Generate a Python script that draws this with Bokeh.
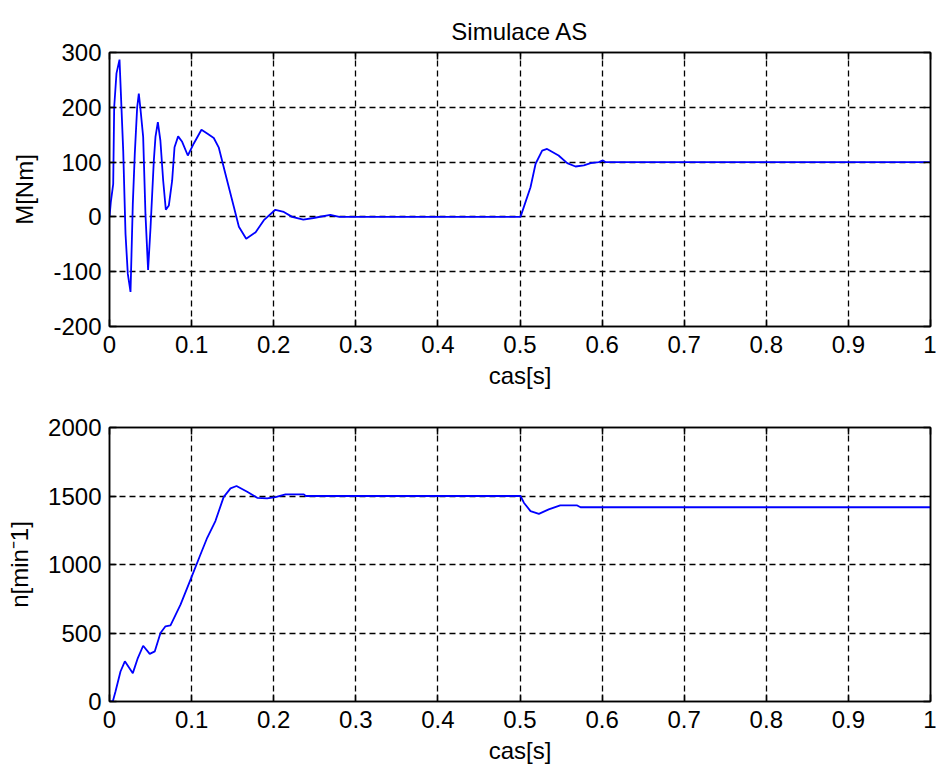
from bokeh.plotting import figure
from bokeh.layouts import column
from bokeh.models import LinearAxis, FixedTicker, Range1d
from bokeh.embed import file_html
from bokeh.resources import INLINE

# ---- data ----
t_M = [0.0, 0.0016, 0.0045, 0.0057, 0.0085, 0.0122, 0.0167, 0.0195, 0.0223, 0.0256,
       0.0284, 0.0308, 0.0337, 0.0357, 0.0377, 0.041, 0.0438, 0.047, 0.050, 0.054,
       0.056, 0.0589, 0.062, 0.0654, 0.0686, 0.0723, 0.0763, 0.0792, 0.0836, 0.0885,
       0.0954, 0.1027, 0.112, 0.119, 0.127, 0.133, 0.1413, 0.1515, 0.1576, 0.1665,
       0.178, 0.188, 0.202, 0.2123, 0.2225, 0.236, 0.2485, 0.269, 0.277, 0.28,
       0.5, 0.5006, 0.5128, 0.519, 0.527, 0.533, 0.547, 0.5575, 0.5676, 0.5778,
       0.586, 0.596, 0.601, 0.604, 1.0]
M = [0, 27, 60, 200, 262, 287, 121, -31, -104, -137,
     24, 115, 200, 225, 197, 146, 5, -97, -19, 103,
     146, 173, 139, 66, 13, 21, 66, 127, 147, 137,
     112, 134, 159, 152, 144, 127, 78, 18, -18, -40,
     -28, -6, 13, 9, 0, -5, -2, 3.6, 1, 0,
     0, 0, 54, 97, 121, 124, 112, 98, 92, 94,
     98, 100, 103, 100, 100]

t_n = [0.0, 0.004, 0.0073, 0.0134, 0.0187, 0.0284, 0.0345, 0.041, 0.049, 0.0552,
       0.0621, 0.0682, 0.0743, 0.0865, 0.0987, 0.1108, 0.119, 0.129, 0.139, 0.1474,
       0.1547, 0.1677, 0.1799, 0.192, 0.2022, 0.2144, 0.2367, 0.239, 0.5, 0.5006,
       0.5047, 0.5128, 0.523, 0.535, 0.549, 0.5697, 0.5737, 1.0]
n = [0, 0, 73, 219, 293, 207, 317, 407, 348, 366,
     500, 549, 556, 707, 890, 1073, 1195, 1317, 1492, 1556,
     1573, 1531, 1487, 1483, 1492, 1512, 1512, 1500, 1500, 1500,
     1451, 1390, 1370, 1402, 1431, 1431, 1418, 1418]

x_ticks = [0, 0.1, 0.2, 0.3, 0.4, 0.5, 0.6, 0.7, 0.8, 0.9, 1]
x_tick_labels = ["0", "0.1", "0.2", "0.3", "0.4", "0.5", "0.6", "0.7", "0.8", "0.9", "1"]
yM_ticks = [-200, -100, 0, 100, 200, 300]
yM_tick_labels = ["-200", "-100", "0", "100", "200", "300"]
yn_ticks = [0, 500, 1000, 1500, 2000]
yn_tick_labels = ["0", "500", "1000", "1500", "2000"]

title_text = "Simulace AS"
x_label = "cas[s]"
yM_label = "M[Nm]"
yn_label = "n[min\u207b1]"

FONT = "Liberation Sans"
FS = "24px"


def style_axis(ax, ticks, labels, show_labels=True):
    ax.ticker = FixedTicker(ticks=ticks)
    ax.minor_tick_line_color = None
    ax.major_tick_in = 7
    ax.major_tick_out = 0
    ax.major_tick_line_color = "black"
    ax.major_tick_line_width = 1.5
    ax.axis_line_color = "black"
    ax.axis_line_width = 1.5
    ax.major_label_text_font = FONT
    ax.major_label_text_color = "black"
    if show_labels:
        ax.major_label_overrides = {k: v for k, v in zip(ticks, labels)}
        ax.major_label_text_font_size = FS
    else:
        ax.major_label_overrides = {k: "" for k in ticks}
        ax.major_label_text_font_size = "1px"
        ax.major_label_standoff = 0
    ax.axis_label_text_font = FONT
    ax.axis_label_text_font_size = FS
    ax.axis_label_text_font_style = "normal"
    ax.axis_label_text_color = "black"


def make_fig(height, yr, yticks, ylabels, ylab, tx, ty, top_border, title=None):
    p = figure(width=936, height=height, x_range=Range1d(0, 1), y_range=Range1d(*yr),
               output_backend="svg", toolbar_location=None, title=title,
               min_border_left=109, min_border_right=6, min_border_top=top_border,
               min_border_bottom=69)
    p.background_fill_color = "white"
    p.border_fill_color = "white"
    p.outline_line_color = "black"
    p.outline_line_width = 1.5
    p.line(tx, ty, line_color="#0000ff", line_width=1.8)

    style_axis(p.xaxis[0], x_ticks, x_tick_labels)
    p.xaxis[0].axis_label = x_label
    p.xaxis[0].major_label_standoff = 9
    p.xaxis[0].axis_label_standoff = 6
    style_axis(p.yaxis[0], yticks, ylabels)
    p.yaxis[0].axis_label = ylab
    p.yaxis[0].major_label_standoff = 8
    p.yaxis[0].axis_label_standoff = 12

    top = LinearAxis()
    style_axis(top, x_ticks, x_tick_labels, show_labels=False)
    p.add_layout(top, "above")
    right = LinearAxis()
    style_axis(right, yticks, ylabels, show_labels=False)
    p.add_layout(right, "right")

    for g, tk in ((p.xgrid[0], x_ticks), (p.ygrid[0], yticks)):
        g.ticker = FixedTicker(ticks=tk)
        g.grid_line_color = "black"
        g.grid_line_dash = "6 4"
        g.grid_line_width = 1.3
    return p


p1 = make_fig(395, (-200, 300), yM_ticks, yM_tick_labels, yM_label, t_M, M, 52, title=title_text)
p1.title.align = "center"
p1.title.text_font = FONT
p1.title.text_font_size = FS
p1.title.text_font_style = "normal"
p1.title.text_color = "black"
p1.title.standoff = 15

p2 = make_fig(375, (0, 2000), yn_ticks, yn_tick_labels, yn_label, t_n, n, 32)

layout = column(p1, p2, spacing=0)
open("out.html", "w").write(file_html(layout, INLINE))
